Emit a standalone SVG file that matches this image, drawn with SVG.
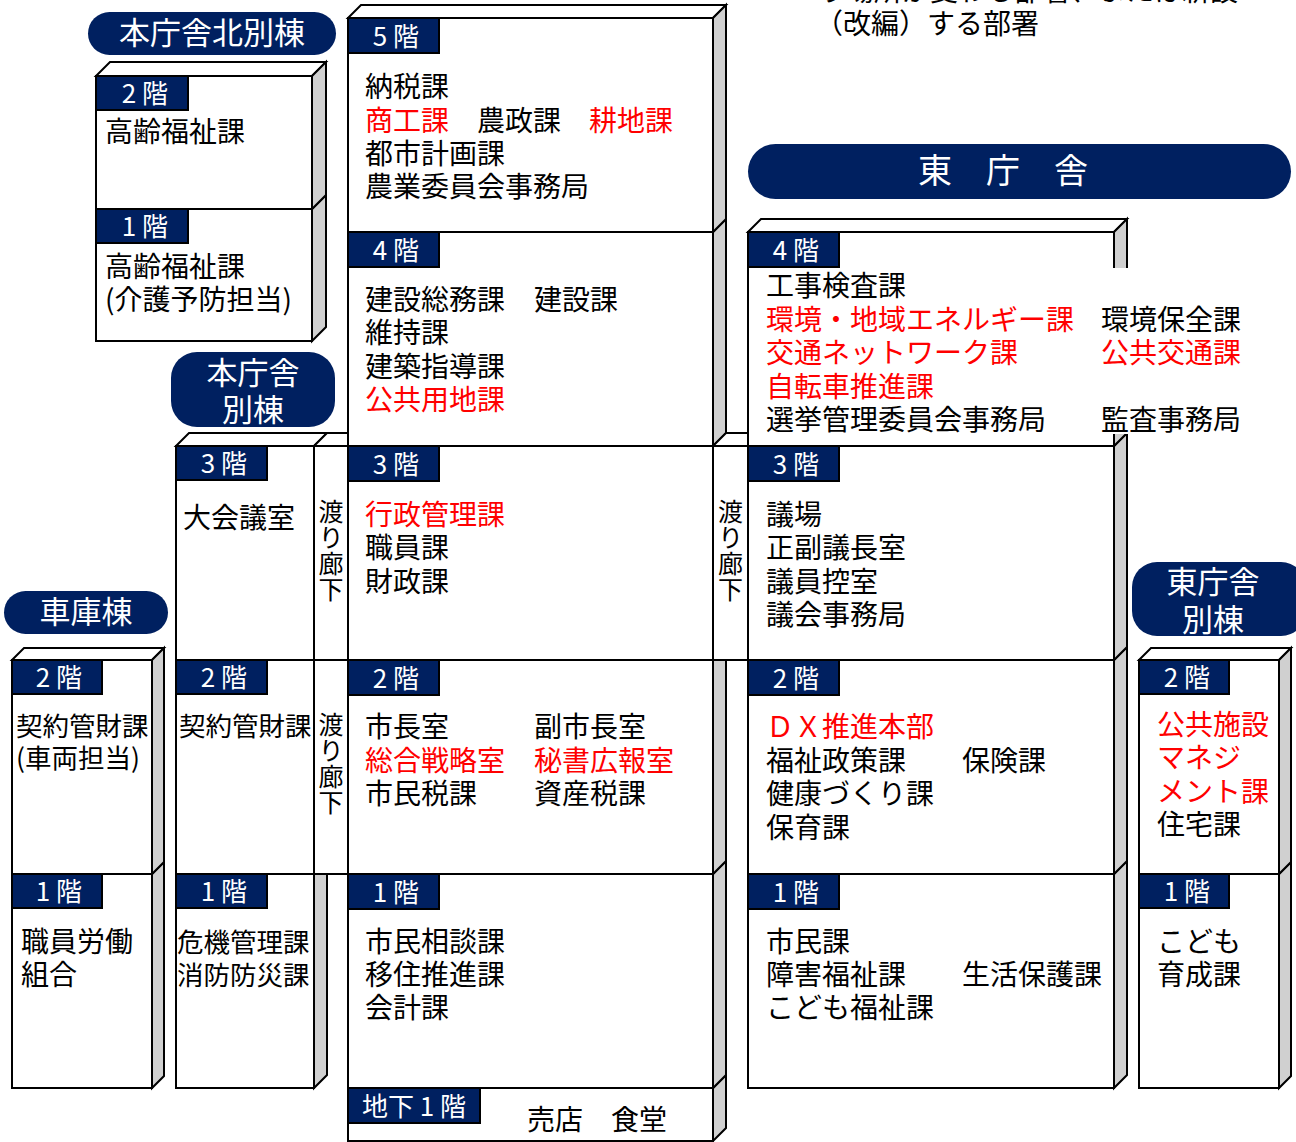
<svg xmlns="http://www.w3.org/2000/svg" width="1296" height="1142" viewBox="0 0 1296 1142">
<style>
text{font-family:"Noto Sans CJK JP","Noto Sans CJK SC",sans-serif;dominant-baseline:central}
.f{fill:#fff;stroke:#000;stroke-width:2}
.s{fill:#d0d0d0;stroke:#000;stroke-width:2}
.b{fill:#002060;stroke:#000;stroke-width:2}
.bt{fill:#fff;font-size:26px;text-anchor:middle}
.t{font-size:28px;fill:#000}
.n{font-size:26.5px}
.r{fill:#f00}
.p{fill:#002060}
.pt{fill:#fff;font-size:31px;text-anchor:middle}
.v{font-size:25px;fill:#000;writing-mode:vertical-rl;text-orientation:upright;letter-spacing:1px;dominant-baseline:auto}
</style>
<rect width="1296" height="1142" fill="#fff"/>

<g id="note">
<text class="t" x="818" y="-11.5">り場所が変わる部署、または新設</text>
<text class="t" x="815" y="22">（改編）する部署</text>
</g>

<g id="north-annex">
<rect class="p" x="88" y="12" width="248" height="43" rx="21.5"/>
<text class="pt" x="212" y="30.5">本庁舎北別棟</text>
<path class="s" d="M312,209 L326,195 L326,327 L312,341Z"/>
<rect class="f" x="96" y="209" width="216" height="132"/>
<path class="f" d="M96,76 L110,62 L326,62 L312,76Z"/>
<path class="s" d="M312,76 L326,62 L326,195 L312,209Z"/>
<rect class="f" x="96" y="76" width="216" height="133"/>
<rect class="b" x="96" y="76" width="92" height="34"/>
<text class="bt" x="145" y="91.5">2 階</text>
<rect class="b" x="96" y="209" width="92" height="34"/>
<text class="bt" x="145" y="224.5">1 階</text>
<text class="t" x="105" y="130">高齢福祉課</text>
<text class="t" x="105" y="265">高齢福祉課</text>
<text class="t" x="105" y="298">(介護予防担当)</text>
</g>

<g id="garage">
<rect class="p" x="4" y="591" width="164" height="43" rx="21.5"/>
<text class="pt" x="86" y="609">車庫棟</text>
<path class="s" d="M152,874 L164,862 L164,1076 L152,1088Z"/>
<rect class="f" x="12" y="874" width="140" height="214"/>
<path class="f" d="M12,660 L24,648 L164,648 L152,660Z"/>
<path class="s" d="M152,660 L164,648 L164,862 L152,874Z"/>
<rect class="f" x="12" y="660" width="140" height="214"/>
<rect class="b" x="12" y="660" width="90" height="34"/>
<text class="bt" x="59" y="675.5">2 階</text>
<rect class="b" x="12" y="874" width="90" height="34"/>
<text class="bt" x="59" y="889.5">1 階</text>
<text class="t n" x="16" y="724">契約管財課</text>
<text class="t n" x="16" y="756">(車両担当)</text>
<text class="t" x="21" y="940">職員労働</text>
<text class="t" x="21" y="973">組合</text>
</g>

<g id="annex">
<rect class="p" x="171" y="352" width="164" height="75" rx="26"/>
<text class="pt" x="253" y="370">本庁舎</text>
<text class="pt" x="253" y="407">別棟</text>
<path class="s" d="M314,874 L327,861 L327,1075 L314,1088Z"/>
<rect class="f" x="176" y="874" width="138" height="214"/>
<rect class="f" x="176" y="660" width="138" height="214"/>
<path class="f" d="M176,446 L189,433 L327,433 L314,446Z"/>
<rect class="f" x="176" y="446" width="138" height="214"/>
<rect class="b" x="176" y="446" width="91" height="34"/>
<text class="bt" x="224" y="461.5">3 階</text>
<rect class="b" x="176" y="660" width="91" height="34"/>
<text class="bt" x="224" y="675.5">2 階</text>
<rect class="b" x="176" y="874" width="91" height="34"/>
<text class="bt" x="224" y="889.5">1 階</text>
<text class="t" x="183" y="516">大会議室</text>
<text class="t n" x="179" y="724">契約管財課</text>
<text class="t n" x="177" y="940">危機管理課</text>
<text class="t n" x="177" y="973">消防防災課</text>
</g>

<g id="annex-corridor">
<path class="f" d="M314,446 L327,433 L348,433 L348,446Z"/>
<rect class="f" x="314" y="446" width="34" height="214"/>
<rect class="f" x="314" y="660" width="34" height="214"/>
<text class="v" x="331" y="499">渡り廊下</text>
<text class="v" x="331" y="712">渡り廊下</text>
</g>

<g id="main">
<path class="s" d="M713,1088 L726,1075 L726,1128 L713,1141Z"/>
<rect class="f" x="348" y="1088" width="365" height="53"/>
<path class="s" d="M713,874 L726,861 L726,1075 L713,1088Z"/>
<rect class="f" x="348" y="874" width="365" height="214"/>
<path class="s" d="M713,660 L726,647 L726,861 L713,874Z"/>
<rect class="f" x="348" y="660" width="365" height="214"/>
<path class="s" d="M713,446 L726,433 L726,647 L713,660Z"/>
<rect class="f" x="348" y="446" width="365" height="214"/>
<path class="s" d="M713,232 L726,219 L726,433 L713,446Z"/>
<rect class="f" x="348" y="232" width="365" height="214"/>
<path class="f" d="M348,18 L361,5 L726,5 L713,18Z"/>
<path class="s" d="M713,18 L726,5 L726,219 L713,232Z"/>
<rect class="f" x="348" y="18" width="365" height="214"/>
<rect class="b" x="348" y="18" width="91" height="35"/>
<text class="bt" x="396" y="34">5 階</text>
<rect class="b" x="348" y="232" width="91" height="35"/>
<text class="bt" x="396" y="248">4 階</text>
<rect class="b" x="348" y="446" width="91" height="35"/>
<text class="bt" x="396" y="462">3 階</text>
<rect class="b" x="348" y="660" width="91" height="35"/>
<text class="bt" x="396" y="676">2 階</text>
<rect class="b" x="348" y="874" width="91" height="35"/>
<text class="bt" x="396" y="890">1 階</text>
<rect class="b" x="348" y="1088" width="132" height="35"/>
<text class="bt" x="414" y="1104">地下 1 階</text>
<text class="t" x="365" y="85">納税課</text>
<text class="t r" x="365" y="119">商工課</text>
<text class="t" x="477" y="119">農政課</text>
<text class="t r" x="589" y="119">耕地課</text>
<text class="t" x="365" y="152">都市計画課</text>
<text class="t" x="365" y="185">農業委員会事務局</text>
<text class="t" x="365" y="298">建設総務課</text>
<text class="t" x="534" y="298">建設課</text>
<text class="t" x="365" y="331">維持課</text>
<text class="t" x="365" y="365">建築指導課</text>
<text class="t r" x="365" y="398">公共用地課</text>
<text class="t r" x="365" y="513">行政管理課</text>
<text class="t" x="365" y="546">職員課</text>
<text class="t" x="365" y="580">財政課</text>
<text class="t" x="365" y="725">市長室</text>
<text class="t" x="534" y="725">副市長室</text>
<text class="t r" x="365" y="759">総合戦略室</text>
<text class="t r" x="534" y="759">秘書広報室</text>
<text class="t" x="365" y="792">市民税課</text>
<text class="t" x="534" y="792">資産税課</text>
<text class="t" x="365" y="940">市民相談課</text>
<text class="t" x="365" y="973">移住推進課</text>
<text class="t" x="365" y="1006">会計課</text>
<text class="t" x="527" y="1118">売店　食堂</text>
</g>

<g id="east-corridor">
<path class="f" d="M713,446 L726,433 L748,433 L748,446Z"/>
<rect class="f" x="713" y="446" width="35" height="214"/>
<text class="v" x="730.5" y="499">渡り廊下</text>
</g>

<g id="east">
<rect class="p" x="748" y="144" width="543" height="55" rx="27.5"/>
<text class="pt" x="1003" y="168.5" style="font-size:34px">東　庁　舎</text>
<path class="s" d="M1114,874 L1127,861 L1127,1075 L1114,1088Z"/>
<rect class="f" x="748" y="874" width="366" height="214"/>
<path class="s" d="M1114,660 L1127,647 L1127,861 L1114,874Z"/>
<rect class="f" x="748" y="660" width="366" height="214"/>
<path class="s" d="M1114,446 L1127,433 L1127,647 L1114,660Z"/>
<rect class="f" x="748" y="446" width="366" height="214"/>
<path class="f" d="M748,232 L761,219 L1127,219 L1114,232Z"/>
<path class="s" d="M1114,232 L1127,219 L1127,433 L1114,446Z"/>
<rect class="f" x="748" y="232" width="366" height="214"/>
<rect x="1090" y="268" width="160" height="166" fill="#fff"/>
<rect class="b" x="748" y="232" width="91" height="35"/>
<text class="bt" x="796" y="248">4 階</text>
<rect class="b" x="748" y="446" width="91" height="35"/>
<text class="bt" x="796" y="462">3 階</text>
<rect class="b" x="748" y="660" width="91" height="35"/>
<text class="bt" x="796" y="676">2 階</text>
<rect class="b" x="748" y="874" width="91" height="35"/>
<text class="bt" x="796" y="890">1 階</text>
<text class="t" x="766" y="284">工事検査課</text>
<text class="t r" x="766" y="318">環境・地域エネルギー課</text>
<text class="t" x="1101" y="318">環境保全課</text>
<text class="t r" x="766" y="351">交通ネットワーク課</text>
<text class="t r" x="1101" y="351">公共交通課</text>
<text class="t r" x="766" y="385">自転車推進課</text>
<text class="t" x="766" y="418">選挙管理委員会事務局</text>
<text class="t" x="1101" y="418">監査事務局</text>
<text class="t" x="766" y="513">議場</text>
<text class="t" x="766" y="546">正副議長室</text>
<text class="t" x="766" y="580">議員控室</text>
<text class="t" x="766" y="613">議会事務局</text>
<text class="t r" x="766" y="725">ＤＸ推進本部</text>
<text class="t" x="766" y="759">福祉政策課</text>
<text class="t" x="962" y="759">保険課</text>
<text class="t" x="766" y="792">健康づくり課</text>
<text class="t" x="766" y="826">保育課</text>
<text class="t" x="766" y="940">市民課</text>
<text class="t" x="766" y="973">障害福祉課</text>
<text class="t" x="962" y="973">生活保護課</text>
<text class="t" x="766" y="1006">こども福祉課</text>
</g>

<g id="east-annex">
<rect class="p" x="1132" y="562" width="174" height="74" rx="25"/>
<text class="pt" x="1213" y="579">東庁舎</text>
<text class="pt" x="1213" y="617">別棟</text>
<path class="s" d="M1279,874 L1291,862 L1291,1076 L1279,1088Z"/>
<rect class="f" x="1139" y="874" width="140" height="214"/>
<path class="f" d="M1139,660 L1151,648 L1291,648 L1279,660Z"/>
<path class="s" d="M1279,660 L1291,648 L1291,862 L1279,874Z"/>
<rect class="f" x="1139" y="660" width="140" height="214"/>
<rect class="b" x="1139" y="660" width="90" height="34"/>
<text class="bt" x="1187" y="675.5">2 階</text>
<rect class="b" x="1139" y="874" width="90" height="34"/>
<text class="bt" x="1187" y="889.5">1 階</text>
<text class="t r" x="1157" y="723">公共施設</text>
<text class="t r" x="1157" y="756">マネジ</text>
<text class="t r" x="1157" y="790">メント課</text>
<text class="t" x="1157" y="823">住宅課</text>
<text class="t" x="1157" y="940">こども</text>
<text class="t" x="1157" y="973">育成課</text>
</g>

<g id="connectors"/>
</svg>
